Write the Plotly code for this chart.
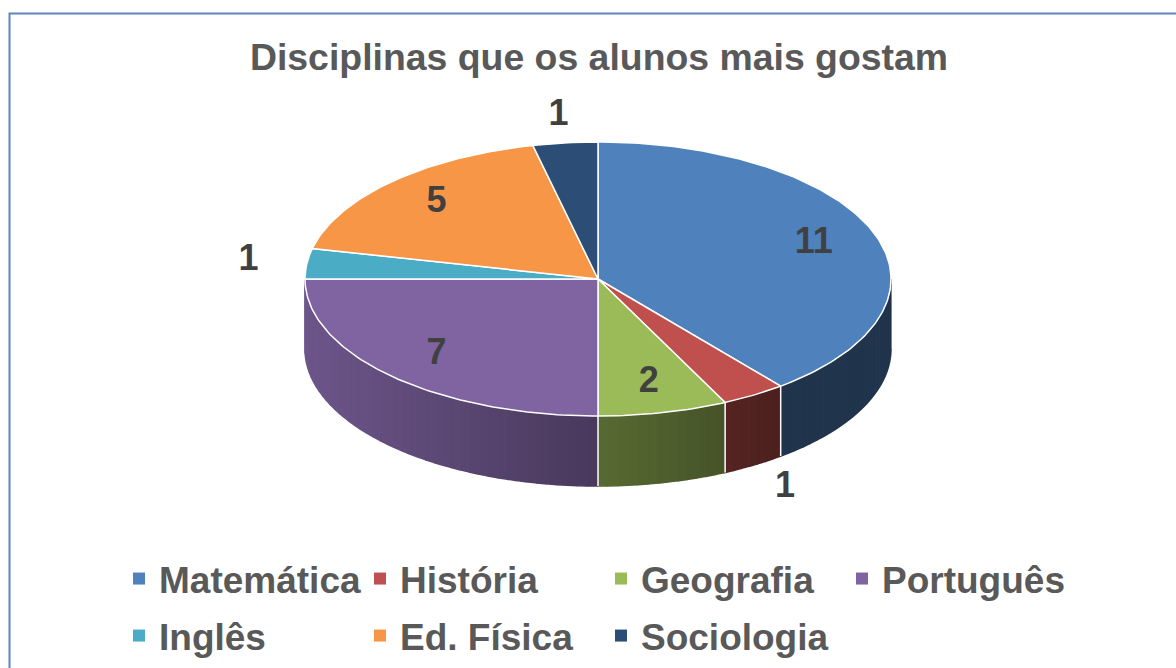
import math
import numpy as np
import plotly.graph_objects as go

# ---- data ----
categories = ["Matemática", "História", "Geografia", "Português", "Inglês", "Ed. Física", "Sociologia"]
values = [11, 1, 2, 7, 1, 5, 1]
colors = ["#4F81BD", "#C0504D", "#9BBB59", "#8064A2", "#4BACC6", "#F79646", "#2C4D75"]
chart_title = "Disciplinas que os alunos mais gostam"

# ---- geometry / style (layout only) ----
W, H = 1176, 668
CX, CY, RX, RY, DEPTH = 598, 279, 293, 137, 70
FONT = "Liberation Sans, Arial, sans-serif"


def pt(theta_deg, r=1.0, drop=0.0):
    t = np.radians(theta_deg)
    return CX + r * RX * np.sin(t), CY - r * RY * np.cos(t) + drop


def shade(hexcol, f):
    h = hexcol.lstrip("#")
    r, g, b = (int(h[i:i + 2], 16) for i in (0, 2, 4))
    return "rgb(%d,%d,%d)" % (round(r * f), round(g * f), round(b * f))


def wall_factor(theta):
    u = math.sin(math.radians(theta))
    return 0.40 + 0.45 * min(max((0.6 - u) / 1.6, 0.0), 1.0)


total = float(sum(values))
starts, ends = [], []
acc = 0.0
for v in values:
    starts.append(acc / total * 360.0)
    acc += v
    ends.append(acc / total * 360.0)

fig = go.Figure()

# side walls (front half only)
for a, b, c in zip(starts, ends, colors):
    lo, hi = max(a, 90.0), min(b, 270.0)
    if lo >= hi:
        continue
    n = max(1, int(math.ceil((hi - lo) / 2.0)))
    edges = np.linspace(lo, hi, n + 1)
    for s0, s1 in zip(edges[:-1], edges[1:]):
        arc = np.linspace(s0, s1, 4)
        xt, yt = pt(arc)
        xb, yb = pt(arc[::-1], drop=DEPTH)
        col = shade(c, wall_factor((s0 + s1) / 2))
        fig.add_trace(go.Scatter(
            x=list(xt) + list(xb), y=list(yt) + list(yb),
            fill="toself", fillcolor=col, mode="lines",
            line=dict(color=col, width=1.5), hoverinfo="skip", showlegend=False))

# white edges between wall pieces
for a in starts:
    if 90.0 < a < 270.0:
        x0, y0 = pt(a)
        x1, y1 = pt(a, drop=DEPTH)
        fig.add_trace(go.Scatter(x=[x0, x1], y=[y0, y1], mode="lines",
                                 line=dict(color="white", width=1.5),
                                 hoverinfo="skip", showlegend=False))

# top faces
for a, b, c in zip(starts, ends, colors):
    n = max(2, int(math.ceil((b - a) / 1.0)) + 1)
    arc = np.linspace(a, b, n)
    xa, ya = pt(arc)
    fig.add_trace(go.Scatter(
        x=[CX] + list(xa) + [CX], y=[CY] + list(ya) + [CY],
        fill="toself", fillcolor=c, mode="lines",
        line=dict(color="white", width=1.5), hoverinfo="skip", showlegend=False))

# data labels
lx, ly, lt = [], [], []
for a, b, v in zip(starts, ends, values):
    mid = (a + b) / 2
    if v / total >= 0.06:
        x, y = pt(mid, r=0.78)
    else:
        front = 90.0 < mid < 270.0
        x, y = pt(mid, r=1.2, drop=DEPTH if front else 0.0)
    lx.append(x)
    ly.append(y)
    lt.append(str(v))
fig.add_trace(go.Scatter(x=lx, y=ly, text=lt, mode="text", textposition="middle center",
                         textfont=dict(family=FONT, size=36, color="#404040", weight="bold"),
                         hoverinfo="skip", showlegend=False))

# legend entries (two rows -> two legends)
for i, (name, c) in enumerate(zip(categories, colors)):
    fig.add_trace(go.Scatter(x=[None], y=[None], mode="markers", name=name,
                             legend="legend" if i < 4 else "legend2",
                             marker=dict(symbol="square", size=11, color=c)))

leg_common = dict(orientation="h", x=119 / W, xanchor="left", yanchor="top",
                  entrywidth=196, entrywidthmode="pixels", itemsizing="constant",
                  font=dict(family=FONT, size=37, color="#595959", weight="bold"),
                  bgcolor="rgba(0,0,0,0)", traceorder="normal")

fig.update_layout(
    width=W, height=H,
    margin=dict(l=0, r=0, t=0, b=0),
    paper_bgcolor="white", plot_bgcolor="white",
    xaxis=dict(range=[0, W], visible=False, fixedrange=True),
    yaxis=dict(range=[H, 0], visible=False, fixedrange=True),
    title=dict(text=chart_title, x=599 / W, xanchor="center",
               y=1 - 57 / H, yanchor="middle", yref="container",
               font=dict(family=FONT, size=37.4, color="#595959", weight="bold")),
    legend=dict(y=1 - 548 / H, **leg_common),
    legend2=dict(y=1 - 605 / H, **leg_common),
    shapes=[dict(type="rect", xref="x", yref="y", x0=9.5, y0=13.5, x1=W + 5, y1=H + 5,
                 line=dict(color="#5B86C0", width=2), fillcolor="rgba(0,0,0,0)", layer="above")],
    showlegend=True,
)

fig.write_html("out.html", config={"displayModeBar": False},
               post_script="document.body.style.margin='0';")
